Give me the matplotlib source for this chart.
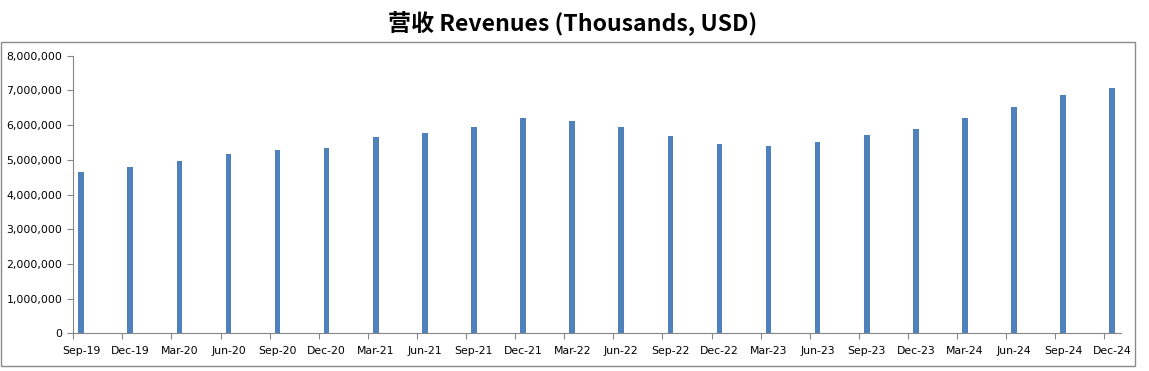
import numpy as np
import matplotlib
matplotlib.use("Agg")
import matplotlib.pyplot as plt
import matplotlib.ticker as mticker
from matplotlib.patches import Rectangle

# Quarterly revenues (thousands USD)
quarters = ["Sep-19", "Dec-19", "Mar-20", "Jun-20", "Sep-20", "Dec-20",
            "Mar-21", "Jun-21", "Sep-21", "Dec-21", "Mar-22", "Jun-22",
            "Sep-22", "Dec-22", "Mar-23", "Jun-23", "Sep-23", "Dec-23",
            "Mar-24", "Jun-24", "Sep-24", "Dec-24"]
revenues = [4660000, 4800000, 4970000, 5170000, 5280000, 5340000,
            5660000, 5770000, 5950000, 6200000, 6120000, 5950000,
            5690000, 5460000, 5400000, 5510000, 5720000, 5890000,
            6200000, 6520000, 6870000, 7070000]

W, H = 1149, 371
fig = plt.figure(figsize=(W / 100, H / 100), dpi=100)
ax = fig.add_axes([73.3 / W, 1 - 333.3 / H, (1120.7 - 73.3) / W, (333.3 - 55.7) / H])

x = np.arange(len(quarters))
ax.bar(x, revenues, width=0.115, color="#4F81BD", zorder=2)

# boundaries between quarters carry the tick marks, labels sit under the bars
off = 0.16
ax.set_xlim(-off, len(quarters) - 1 + 0.173)
ax.set_xticks(x - off)
ax.set_xticklabels([])
ax.set_xticks(x, minor=True)
ax.set_xticklabels(quarters, minor=True)
ax.tick_params(axis="x", which="major", length=4, direction="out", color="#868686")
ax.tick_params(axis="x", which="minor", length=0, pad=9, labelsize=7.8)

ax.set_ylim(0, 8000000)
ax.set_yticks(np.arange(0, 8000001, 1000000))
ax.yaxis.set_major_formatter(mticker.FuncFormatter(lambda v, p: f"{int(v):,}"))
ax.tick_params(axis="y", length=4, direction="out", color="#868686", labelsize=7.8, pad=4)

for s in ["top", "right"]:
    ax.spines[s].set_visible(False)
for s in ["left", "bottom"]:
    ax.spines[s].set_color("#868686")

# outer chart border
fig.patches.append(Rectangle((1 / W, 1 - 366 / H), 1134 / W, 324 / H,
                             transform=fig.transFigure, fill=False,
                             edgecolor="#8c8c8c", linewidth=1))

fig.text(573 / W, 1 - 23 / H, "营收 Revenues (Thousands, USD)",
         ha="center", va="center", fontsize=16.6, fontweight="bold",
         family=["Noto Sans CJK SC", "DejaVu Sans"])

fig.savefig("out.png", dpi=100)
